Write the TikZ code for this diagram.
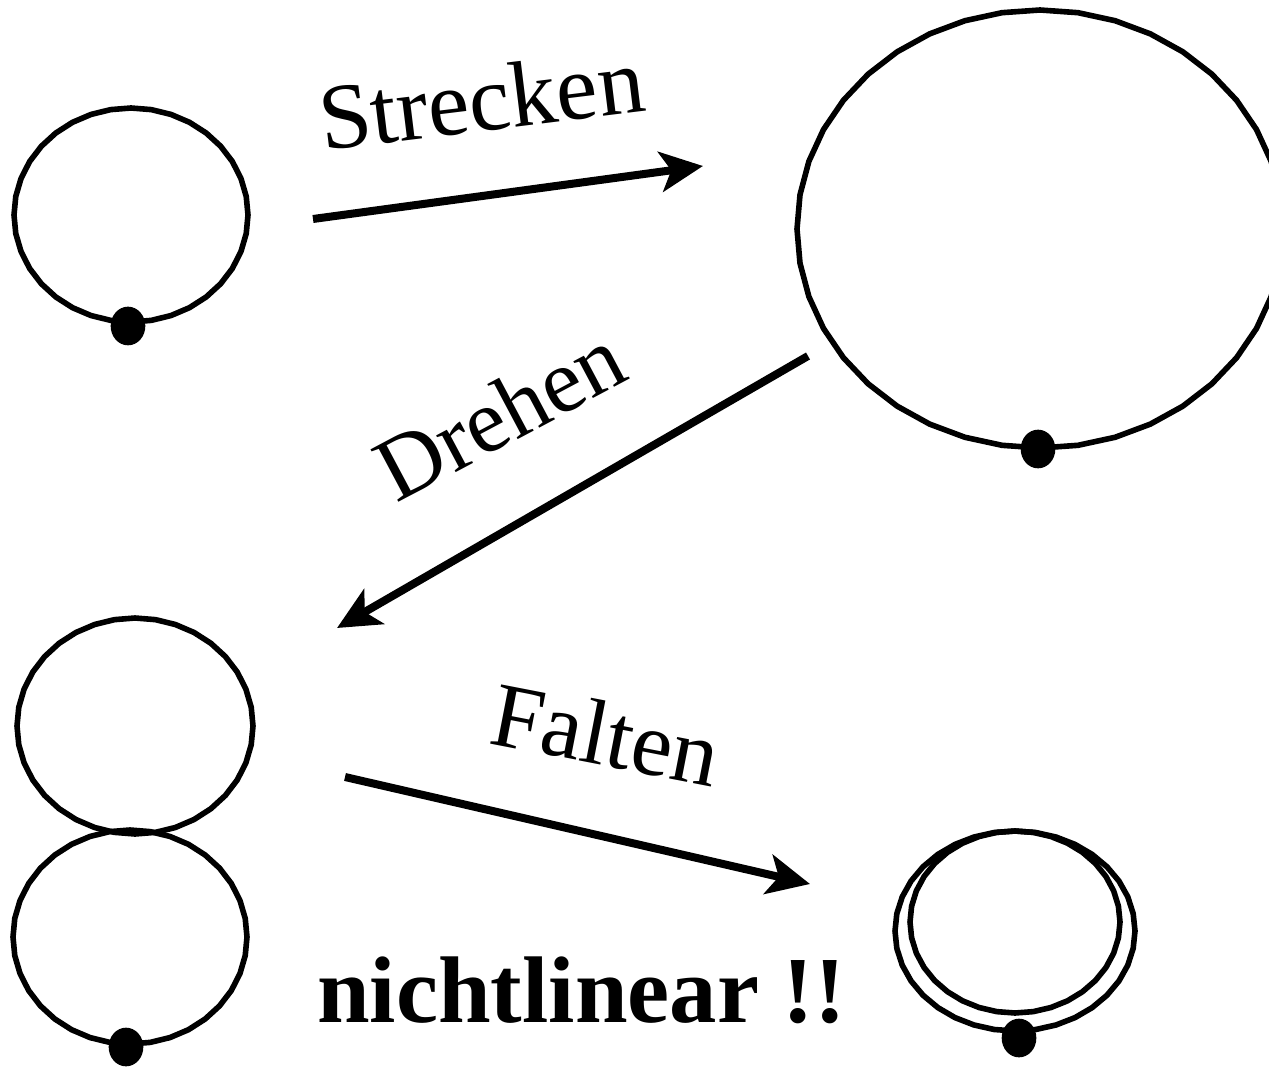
\documentclass[tikz,border=0pt]{standalone}
\usepackage{fontspec}
\setmainfont{Liberation Serif}
\usetikzlibrary{arrows.meta,shapes.geometric}
\begin{document}
\begin{tikzpicture}[x=0.75pt,y=-0.75pt,
  ring/.style={line width=4.2pt, line join=round},
  dotnode/.style={ellipse, fill=black, minimum width=26pt, minimum height=29pt, inner sep=0pt},
  arr/.style={line width=6pt, -{Stealth[length=32pt,width=30pt,inset=8pt]}},
  lbl/.style={font=\fontsize{70}{84}\selectfont, inner sep=0pt, anchor=base west},
]
\clip (0,0) rectangle (1269,1069);
% rings
\draw[ring] plot[domain=0:360, samples=37] ({131+117*cos(\x)}, {215+107*sin(\x)}) -- cycle;
\draw[ring] plot[domain=0:360, samples=41] ({1040+243*cos(\x)}, {229+219*sin(\x)}) -- cycle;
\draw[ring] plot[domain=0:360, samples=37] ({135+118*cos(\x)}, {726+108*sin(\x)}) -- cycle;
\draw[ring] plot[domain=0:360, samples=37] ({130+117*cos(\x)}, {937+107*sin(\x)}) -- cycle;
\draw[ring] plot[domain=0:360, samples=37] ({1015+120*cos(\x)}, {931+100*sin(\x)}) -- cycle;
\draw[ring] plot[domain=0:360, samples=37] ({1015+105*cos(\x)}, {922+91*sin(\x)}) -- cycle;
% dots
\node[dotnode] (d1) at (128,326) {};
\node[dotnode] (d2) at (1038,449) {};
\node[dotnode] (d3) at (126,1047) {};
\node[dotnode] (d4) at (1019,1038) {};
% arrow ends
\coordinate (s1) at (313,219);
\coordinate (s2) at (703,166);
\coordinate (r1) at (808,356);
\coordinate (r2) at (337,628);
\coordinate (f1) at (345,777);
\coordinate (f2) at (810,884);
\draw[arr] (s1) -- (s2);
\draw[arr] (r1) -- (r2);
\draw[arr] (f1) -- (f2);
% labels
\node[lbl, rotate=7] (tS) at (323,151) {Strecken};
\node[lbl, rotate=28, font=\fontsize{68}{80}\selectfont] (tD) at (396,504) {Drehen};
\node[lbl, rotate=-11, font=\fontsize{69}{80}\selectfont] (tF) at (487,743) {Falten};
\node[lbl, font=\fontsize{71}{84}\selectfont\bfseries] (tN) at (317,1022) {nichtlinear !!};
\end{tikzpicture}
\end{document}
